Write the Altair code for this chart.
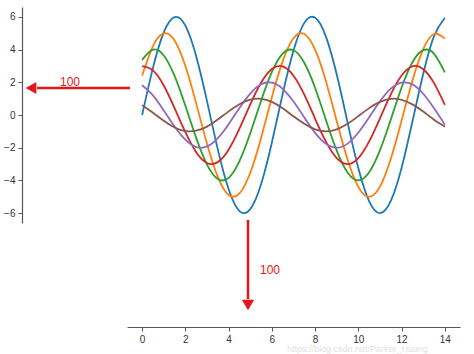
import altair as alt
import pandas as pd

x_vals = [i * 0.5 for i in range(29)]

s0 = [0, 2.88, 5.05, 5.98, 5.46, 3.59, 0.85, -2.10, -4.54, -5.87, -5.75, -4.23, -1.68, 1.29, 3.94,
      5.63, 5.94, 4.79, 2.47, -0.45, -3.26, -5.28, -6.00, -5.25, -3.22, -0.40, 2.52, 4.82, 5.94]
s1 = [2.40, 4.21, 4.99, 4.55, 2.99, 0.71, -1.75, -3.78, -4.89, -4.79, -3.53, -1.40, 1.08, 3.29, 4.69,
      4.95, 3.99, 2.06, -0.38, -2.72, -4.40, -5.00, -4.38, -2.68, -0.33, 2.10, 4.02, 4.95, 4.67]
s2 = [3.37, 3.99, 3.64, 2.39, 0.56, -1.40, -3.03, -3.91, -3.84, -2.82, -1.12, 0.86, 2.63, 3.75, 3.96,
      3.19, 1.65, -0.30, -2.18, -3.52, -4.00, -3.50, -2.15, -0.27, 1.68, 3.22, 3.96, 3.74, 2.60]
s3 = [2.99, 2.73, 1.80, 0.42, -1.05, -2.27, -2.93, -2.88, -2.12, -0.84, 0.65, 1.97, 2.81, 2.97, 2.40,
      1.24, -0.23, -1.63, -2.64, -3.00, -2.63, -1.61, -0.20, 1.26, 2.41, 2.97, 2.80, 1.95, 0.62]
s4 = [1.82, 1.20, 0.28, -0.70, -1.51, -1.96, -1.92, -1.41, -0.56, 0.43, 1.31, 1.88, 1.98, 1.60, 0.82,
      -0.15, -1.09, -1.76, -2.00, -1.75, -1.07, -0.13, 0.84, 1.61, 1.98, 1.87, 1.30, 0.41, -0.58]
s5 = [0.60, 0.14, -0.35, -0.76, -0.98, -0.96, -0.71, -0.28, 0.22, 0.66, 0.94, 0.99, 0.80, 0.41, -0.08,
      -0.54, -0.88, -1.00, -0.88, -0.54, -0.07, 0.42, 0.80, 0.99, 0.93, 0.65, 0.21, -0.29, -0.71]

series = [s0, s1, s2, s3, s4, s5]
series_names = ["s0", "s1", "s2", "s3", "s4", "s5"]
colors = ["#1f77b4", "#ff7f0e", "#2ca02c", "#d62728", "#9467bd", "#8c564b"]

x_ticks = [0, 2, 4, 6, 8, 10, 12, 14]
y_ticks = [-6, -4, -2, 0, 2, 4, 6]
annot_label = "100"
watermark = "https://blog.csdn.net/Parker_Huang"

rows = []
for name, ys in zip(series_names, series):
    for xv, yv in zip(x_vals, ys):
        rows.append({"x": xv, "y": yv, "s": name})
df = pd.DataFrame(rows)

W, H = 333, 216
RED = "#e8141c"
FONT = "Liberation Sans"

lines = alt.Chart(df).mark_line(strokeWidth=1.8, interpolate="natural").encode(
    x=alt.X("x:Q", scale=alt.Scale(domain=[-0.7, 14.7], nice=False, zero=False),
            axis=alt.Axis(values=x_ticks, title=None, grid=False, offset=104, tickSize=4,
                          labelPadding=3, labelFontSize=10, labelColor="#333333",
                          domainColor="#555555", tickColor="#555555", labelFont=FONT,
                          domainWidth=1.2)),
    y=alt.Y("y:Q", scale=alt.Scale(domain=[-6.6, 6.6], nice=False, zero=False),
            axis=alt.Axis(values=y_ticks, title=None, grid=False, offset=105, tickSize=4,
                          labelPadding=3, labelFontSize=10, labelColor="#333333",
                          domainColor="#555555", tickColor="#555555", labelFont=FONT,
                          domainWidth=1.2)),
    color=alt.Color("s:N", scale=alt.Scale(domain=series_names, range=colors), legend=None),
)

# horizontal arrow (left)
h_line = alt.Chart().mark_rule(color=RED, strokeWidth=2.5).encode(
    x=alt.value(3), x2=alt.value(-90), y=alt.value(81))
h_head = alt.Chart().mark_point(shape="triangle-left", filled=True, color=RED, size=150,
                                opacity=1).encode(x=alt.value(-96), y=alt.value(81))
h_text = alt.Chart().mark_text(text=annot_label, color=RED, fontSize=12, font=FONT).encode(
    x=alt.value(-57), y=alt.value(75))

# vertical arrow (down)
v_line = alt.Chart().mark_rule(color=RED, strokeWidth=2.5).encode(
    x=alt.value(121), y=alt.value(213), y2=alt.value(292))
v_head = alt.Chart().mark_point(shape="triangle-down", filled=True, color=RED, size=150,
                                opacity=1).encode(x=alt.value(121), y=alt.value(298))
v_text = alt.Chart().mark_text(text=annot_label, color=RED, fontSize=12, font=FONT).encode(
    x=alt.value(143), y=alt.value(263))

wm = alt.Chart().mark_text(text=watermark, color="#e2e2e2", fontSize=9, font=FONT,
                           align="left", baseline="bottom").encode(x=alt.value(160), y=alt.value(347))

chart = alt.layer(lines, h_line, h_head, h_text, v_line, v_head, v_text, wm).properties(
    width=W, height=H,
    autosize=alt.AutoSizeParams(type="none"),
    padding={"left": 127, "top": 7, "right": 14, "bottom": 131},
    background="white",
).configure_view(strokeWidth=0)

chart.save("out.html", embed_options={"renderer": "svg", "actions": False})
